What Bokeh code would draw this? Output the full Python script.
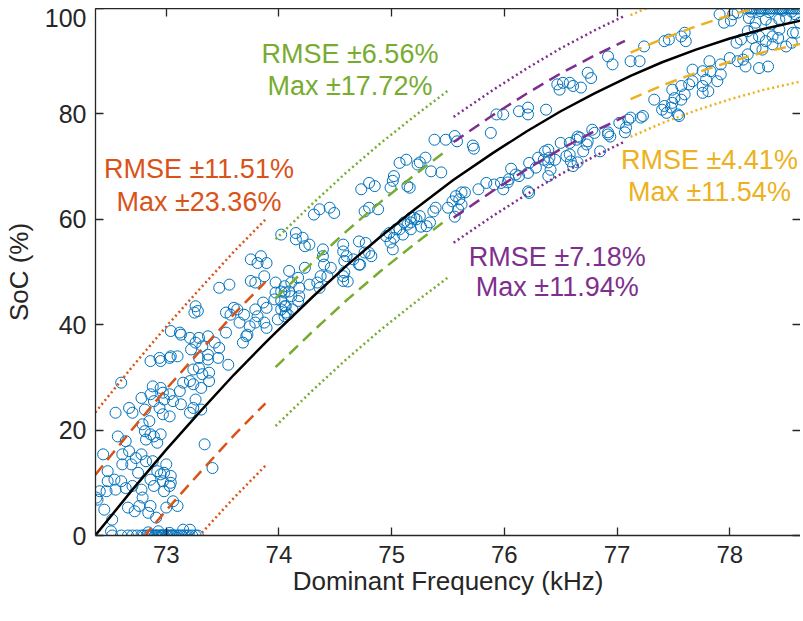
from bokeh.plotting import figure
from bokeh.models import Range1d, LinearAxis, FixedTicker, Spacer
from bokeh.layouts import column
from bokeh.embed import file_html
from bokeh.resources import INLINE
from bokeh.core.properties import value

# ---------------- data ----------------
# measured points (dominant frequency kHz, SoC %)
zero_freq = [72.51, 72.52, 72.60, 72.66, 72.70, 72.74, 72.78, 72.80, 72.83, 72.84, 72.85, 72.87, 72.88, 72.90,
             72.91, 72.92, 72.93, 72.94, 72.95, 72.96, 72.97, 72.98, 73.00, 73.01, 73.02, 73.03, 73.04, 73.05,
             73.06, 73.08, 73.10, 73.12, 73.14, 73.15, 73.16, 73.18, 73.20, 73.21, 73.23, 73.26, 73.28]
zero_soc = [0.8, 0.0, 0.0, 0.0, 0.0, 0.0, 0.0, 0.0, 0.0, 0.6, 0.0, 0.0, 0.0, 0.0,
            0.0, 0.0, 0.8, 0.0, 0.0, 0.0, 0.0, 0.0, 0.0, 0.0, 0.0, 0.5, 0.0, 0.0,
            0.0, 0.0, 0.0, 0.0, 0.0, 1.1, 0.0, 0.0, 0.0, 1.1, 0.0, 0.0, 0.0]

low_freq = [72.86, 72.95, 73.03, 73.10, 73.29, 73.37, 73.46, 73.55, 73.29, 73.24, 73.32, 73.38, 73.21, 73.15,
            73.24, 73.38, 73.31, 72.60, 72.88, 72.95, 72.86, 72.97, 73.03, 73.12, 72.78, 72.89, 72.98, 73.06,
            73.13, 73.26, 73.24, 73.21, 73.31, 72.67, 72.70, 72.55, 72.81, 72.94, 72.97, 73.03, 72.85, 72.81,
            72.86, 72.89, 72.95, 72.82, 72.92, 72.79, 72.57, 72.64, 72.44, 72.61, 72.67, 72.73, 72.78, 72.82,
            72.88, 72.69, 73.00, 72.92, 72.95, 72.98, 73.04, 72.48, 72.54, 72.48, 72.60, 72.64, 72.55, 72.41,
            72.47, 72.38, 72.70, 72.78, 72.86, 72.89, 72.97, 73.03, 73.04, 72.79, 72.76, 72.66, 72.72, 72.84,
            72.91, 72.45, 72.52, 73.10, 73.00, 73.06, 72.86, 73.34, 73.41, 72.98, 72.75, 72.61, 72.39]
low_soc = [33.1, 33.1, 33.7, 34.0, 33.7, 33.4, 33.7, 32.4, 31.8, 31.5, 30.6, 30.9, 29.3, 29.0,
           28.7, 29.3, 28.0, 29.0, 28.3, 28.0, 26.8, 27.1, 26.8, 27.4, 26.1, 25.5, 25.8, 25.5,
           24.9, 25.8, 24.2, 23.3, 23.9, 24.2, 23.3, 23.3, 23.9, 24.2, 23.0, 22.6, 21.7, 19.8,
           19.2, 18.8, 19.2, 18.2, 17.6, 21.1, 18.8, 17.9, 15.4, 15.4, 16.0, 14.7, 15.4, 14.1,
           14.1, 13.5, 13.5, 12.2, 11.6, 11.9, 11.3, 12.2, 10.6, 10.3, 10.3, 9.0, 8.7, 8.4,
           8.4, 7.2, 9.4, 8.7, 10.6, 9.4, 10.3, 9.4, 10.0, 7.2, 5.6, 5.3, 4.6, 4.3,
           3.4, 4.9, 3.0, 5.6, 5.3, 6.5, 5.6, 17.3, 12.8, 8.4, 11.9, 13.5, 6.8]

mid_freq = [73.75, 73.75, 73.47, 73.56, 73.26, 73.28, 73.25, 73.53, 73.60, 73.69, 73.65, 73.04, 73.13, 73.21,
            73.29, 73.37, 73.53, 73.26, 73.32, 73.43, 73.47, 73.22, 73.37, 73.72, 73.68, 73.04, 72.94, 73.74,
            73.79, 73.87, 73.84, 73.12, 73.57, 73.63, 73.71, 73.79, 73.87, 73.79, 73.86, 74.02, 74.05, 74.08,
            74.11, 73.96, 73.81, 73.89, 73.97, 73.97, 74.05, 74.05, 74.09, 74.02, 74.06, 74.17, 74.18, 73.89,
            73.81, 74.06, 73.99, 74.05, 74.12, 74.02, 73.89, 74.02, 74.15, 74.21, 74.27, 74.15, 74.23, 74.09,
            74.17, 74.11, 74.18, 74.34, 74.27, 74.36, 74.37, 74.43, 74.57, 74.57, 74.39, 74.40, 74.46, 74.57,
            74.60, 74.58, 74.66, 74.71, 74.39, 74.57, 74.58, 74.61, 74.72, 74.76, 74.99]
mid_soc = [52.4, 48.3, 47.0, 47.6, 43.5, 42.6, 42.3, 42.3, 43.2, 41.9, 40.4, 38.8, 38.1, 37.5,
           37.5, 37.8, 38.5, 36.6, 35.9, 36.6, 35.6, 35.3, 34.3, 38.1, 36.6, 34.0, 33.7, 39.7,
           48.0, 49.2, 53.0, 38.5, 41.9, 42.9, 37.8, 40.4, 40.4, 42.9, 44.2, 46.3, 43.5, 41.9,
           45.4, 44.8, 51.7, 51.7, 48.0, 46.1, 47.3, 46.1, 46.3, 44.5, 43.5, 44.5, 45.4, 43.2,
           41.6, 42.3, 41.0, 41.6, 42.9, 42.9, 39.4, 57.1, 57.4, 56.5, 55.2, 56.2, 54.9, 50.2,
           48.9, 48.0, 47.0, 48.0, 47.6, 47.0, 49.2, 49.2, 49.2, 48.3, 53.0, 51.4, 50.8, 53.9,
           53.0, 52.1, 52.4, 51.4, 54.3, 55.2, 49.9, 48.2, 51.4, 53.7, 55.6]

upper_freq = [75.07, 75.13, 75.23, 75.02, 75.01, 74.99, 75.16, 74.80, 74.85, 74.73, 74.80, 74.88, 74.76, 74.31,
              74.36, 74.45, 74.49, 74.71, 74.77, 74.80, 74.82, 74.98, 75.02, 75.07, 75.14, 75.17, 75.22, 75.10,
              75.01, 74.23, 74.95, 75.04, 75.17, 75.38, 75.48, 75.56, 75.25, 75.30, 75.35, 75.44, 75.14, 75.20,
              75.17, 75.26, 75.34, 75.39, 75.37, 75.50, 75.59, 75.56, 75.65, 75.62, 75.11, 75.25, 75.31, 75.54,
              75.57, 75.60, 75.62, 75.77, 75.84, 75.91, 75.97, 76.04, 76.06, 76.10, 76.21, 76.22, 76.28, 76.35,
              76.39, 76.40, 76.45, 76.39, 76.22, 76.58, 76.59, 76.61, 76.55, 76.50, 76.58, 76.64, 76.67, 76.70,
              76.73, 76.80, 76.13, 75.99, 76.36, 76.39, 76.65, 76.74, 76.92, 76.94, 77.07, 77.12, 77.21, 76.85,
              76.78, 76.41, 76.30, 76.65, 76.03, 76.21]
upper_soc = [70.7, 71.3, 70.4, 68.2, 67.3, 66.0, 66.0, 66.9, 66.3, 65.7, 62.2, 61.9, 61.5, 60.9,
             61.9, 62.2, 61.2, 55.8, 55.5, 53.6, 53.0, 57.4, 56.5, 58.1, 59.0, 60.3, 60.0, 57.1,
             54.3, 50.8, 56.8, 58.1, 58.1, 75.1, 75.1, 75.8, 70.8, 71.7, 69.1, 68.9, 66.3, 60.3,
             59.4, 58.6, 59.4, 62.2, 61.5, 62.2, 61.9, 60.5, 65.1, 65.1, 59.4, 60.6, 58.7, 63.4,
             64.4, 63.8, 62.8, 65.7, 66.9, 66.6, 66.9, 67.6, 69.6, 68.5, 68.8, 70.7, 69.8, 71.3,
             73.2, 71.7, 71.3, 68.2, 65.0, 72.3, 71.0, 70.1, 72.0, 74.5, 74.5, 75.1, 75.5, 72.9,
             74.2, 76.4, 68.2, 65.7, 72.9, 70.8, 75.7, 74.8, 76.5, 75.7, 76.5, 79.3, 79.3, 72.9,
             77.0, 69.4, 71.7, 70.8, 67.0, 65.3]

high_freq = [75.58, 75.72, 75.73, 75.88, 75.93, 75.99, 76.13, 76.21, 76.21, 76.37, 76.47, 76.52, 76.58, 76.49,
             76.61, 76.68, 76.74, 76.77, 76.92, 76.96, 77.12, 77.20, 77.24, 77.42, 77.46, 77.57, 77.60, 77.61,
             77.91, 77.95, 78.01, 78.03, 78.07, 78.16, 78.17, 78.23, 78.22, 78.32, 78.37, 78.44, 78.50, 78.58,
             78.62, 78.56, 78.44, 78.06, 78.10, 78.20, 78.26, 78.32, 78.38, 78.38, 78.29, 78.23, 78.16, 78.12,
             78.26, 78.34, 78.43, 78.50, 78.55, 78.59, 78.00, 78.07, 78.14, 77.92, 77.82, 77.83, 77.76, 77.79,
             77.92, 77.89, 77.67, 77.67, 77.64, 77.76, 77.81, 77.76, 77.57, 77.49, 77.60, 77.57, 77.51, 77.33,
             77.42, 77.40, 77.49, 77.48, 77.54, 77.55, 77.44, 77.23, 77.10, 77.02, 77.08, 76.92]
high_soc = [74.8, 74.0, 73.4, 76.4, 79.9, 79.9, 80.5, 81.2, 79.9, 80.8, 85.6, 85.9, 85.9, 84.6,
            85.3, 85.0, 87.8, 86.8, 90.9, 89.4, 90.0, 90.0, 92.8, 93.8, 94.1, 94.7, 95.4, 93.8,
            98.9, 97.3, 97.7, 98.9, 99.2, 95.7, 98.2, 97.3, 96.3, 97.9, 97.0, 97.9, 98.2, 98.9,
            97.3, 95.4, 96.0, 93.5, 94.1, 94.4, 94.7, 93.8, 94.7, 93.2, 92.2, 92.5, 91.3, 90.3,
            88.7, 89.0, 94.4, 92.8, 93.5, 95.4, 90.6, 90.0, 89.0, 89.4, 90.0, 88.1, 88.1, 86.5,
            87.5, 86.2, 88.4, 86.2, 85.6, 85.3, 84.3, 84.0, 85.3, 84.6, 83.7, 82.7, 83.0, 82.7,
            81.5, 80.8, 82.1, 81.2, 79.9, 79.6, 80.2, 79.6, 78.9, 78.3, 77.4, 76.1]

full_freq = [78.15, 78.18, 78.19, 78.20, 78.22, 78.24, 78.26, 78.27, 78.28, 78.30, 78.32, 78.34, 78.35, 78.36,
             78.38, 78.40, 78.42, 78.44, 78.46, 78.47, 78.48, 78.50, 78.52, 78.54, 78.55, 78.56, 78.58, 78.60,
             78.62]
full_soc = [100.0, 100.0, 99.4, 100.0, 100.0, 100.0, 100.0, 99.5, 100.0, 100.0, 100.0, 100.0, 99.3, 100.0,
            100.0, 100.0, 100.0, 100.0, 100.0, 99.6, 100.0, 100.0, 100.0, 100.0, 99.4, 100.0, 100.0, 100.0,
            100.0]

# fitted curve
fit_freq = [72.37, 72.70, 73.00, 73.30, 73.60, 73.88, 73.97, 74.30, 74.60, 74.90, 75.20, 75.50, 75.55,
            75.90, 76.20, 76.50, 76.80, 77.07, 77.12, 77.40, 77.70, 78.00, 78.30, 78.63]
fit_soc = [0.0, 8.7, 16.3, 23.5, 30.5, 36.6, 38.5, 45.3, 51.2, 56.7, 61.8, 66.7, 67.5,
           72.6, 76.7, 80.5, 83.9, 86.7, 87.2, 89.8, 92.2, 94.3, 96.1, 97.7]

# error bands per frequency segment
seg_start = [72.37, 73.97, 75.55, 77.12]
seg_end = [73.88, 75.50, 77.07, 78.63]
seg_rmse = [11.51, 6.56, 7.18, 4.41]
seg_max = [23.36, 17.72, 11.94, 11.54]

x_ticks = [73, 74, 75, 76, 77, 78]
y_ticks = [0, 20, 40, 60, 80, 100]
x_title = "Dominant Frequency (kHz)"
y_title = "SoC (%)"

# ---------------- style ----------------
seg_colors = ["#D95319", "#77AC30", "#7E2F8E", "#EDB120"]
label_x = [73.29, 74.63, 76.47, 77.82]
label_y1 = [69.6, 91.3, 52.8, 71.3]
label_y2 = [63.2, 85.2, 47.2, 65.1]
FONT = "Liberation Sans"
AX = "#262626"

p = figure(frame_width=705, frame_height=527,
           x_range=Range1d(72.372, 78.628), y_range=Range1d(0, 100),
           output_backend="svg", toolbar_location=None,
           min_border_left=90, min_border_top=0, min_border_right=0, min_border_bottom=0)
p.outline_line_color = None
p.grid.visible = False
p.background_fill_color = "white"
p.border_fill_color = "white"

for ax in [p.xaxis[0], p.yaxis[0]]:
    ax.major_tick_in = 8
    ax.major_tick_out = 0
    ax.minor_tick_in = 0
    ax.minor_tick_out = 0
    ax.axis_line_color = AX
    ax.axis_line_width = 1.3
    ax.major_tick_line_color = AX
    ax.major_tick_line_width = 1.3
    ax.major_label_text_font = FONT
    ax.major_label_text_color = AX
    ax.axis_label_text_font = FONT
    ax.axis_label_text_font_size = "26px"
    ax.axis_label_text_font_style = "normal"
    ax.axis_label_text_color = AX

p.xaxis[0].ticker = FixedTicker(ticks=x_ticks)
p.yaxis[0].ticker = FixedTicker(ticks=y_ticks)
p.xaxis[0].axis_label = x_title
p.yaxis[0].axis_label = y_title
p.xaxis[0].major_label_text_font_size = "24px"
p.yaxis[0].major_label_text_font_size = "25px"
p.xaxis[0].major_label_standoff = 10
p.xaxis[0].axis_label_standoff = 0
p.yaxis[0].major_label_standoff = 9
p.yaxis[0].axis_label_standoff = 8

top = LinearAxis(ticker=FixedTicker(ticks=x_ticks),
                 major_label_overrides={t: "" for t in x_ticks},
                 major_tick_in=8, major_tick_out=0, minor_tick_in=0, minor_tick_out=0,
                 axis_line_color=AX, axis_line_width=1.3, major_tick_line_color=AX,
                 major_tick_line_width=1.3, major_label_standoff=0)
p.add_layout(top, "above")
right = LinearAxis(ticker=FixedTicker(ticks=y_ticks),
                   major_label_overrides={t: "" for t in y_ticks},
                   major_tick_in=8, major_tick_out=0, minor_tick_in=0, minor_tick_out=0,
                   axis_line_color=None, major_tick_line_color=AX,
                   major_tick_line_width=1.3, major_label_standoff=0)
p.add_layout(right, "right")

# scatter
all_freq = zero_freq + low_freq + mid_freq + upper_freq + high_freq + full_freq
all_soc = zero_soc + low_soc + mid_soc + upper_soc + high_soc + full_soc
p.scatter(all_freq, all_soc, marker="circle", size=11, fill_color=None,
          line_color="#0072BD", line_width=1)

# bands
for i in range(4):
    xs = [f for f in fit_freq if seg_start[i] - 1e-9 <= f <= seg_end[i] + 1e-9]
    ys = [s for f, s in zip(fit_freq, fit_soc) if seg_start[i] - 1e-9 <= f <= seg_end[i] + 1e-9]
    c = seg_colors[i]
    p.line(xs, [y + seg_rmse[i] for y in ys], line_color=c, line_width=2.5, line_dash="12 7")
    p.line(xs, [y - seg_rmse[i] for y in ys], line_color=c, line_width=2.5, line_dash="12 7")
    p.line(xs, [y + seg_max[i] for y in ys], line_color=c, line_width=2.5, line_dash="2 3")
    p.line(xs, [y - seg_max[i] for y in ys], line_color=c, line_width=2.5, line_dash="2 3")

# fit curve
p.line(fit_freq, fit_soc, line_color="black", line_width=2.5)

# labels
for i in range(4):
    p.text(x=[label_x[i]], y=[label_y1[i]], text=["RMSE \u00b1%.2f%%" % seg_rmse[i]],
           text_color=seg_colors[i], text_font=value(FONT), text_font_size=value("27px"),
           text_align="center", text_baseline="middle")
    p.text(x=[label_x[i]], y=[label_y2[i]], text=["Max \u00b1%.2f%%" % seg_max[i]],
           text_color=seg_colors[i], text_font=value(FONT), text_font_size=value("27px"),
           text_align="center", text_baseline="middle")

page = column(Spacer(height=8), p, spacing=0)
open("out.html", "w").write(file_html(page, INLINE))
